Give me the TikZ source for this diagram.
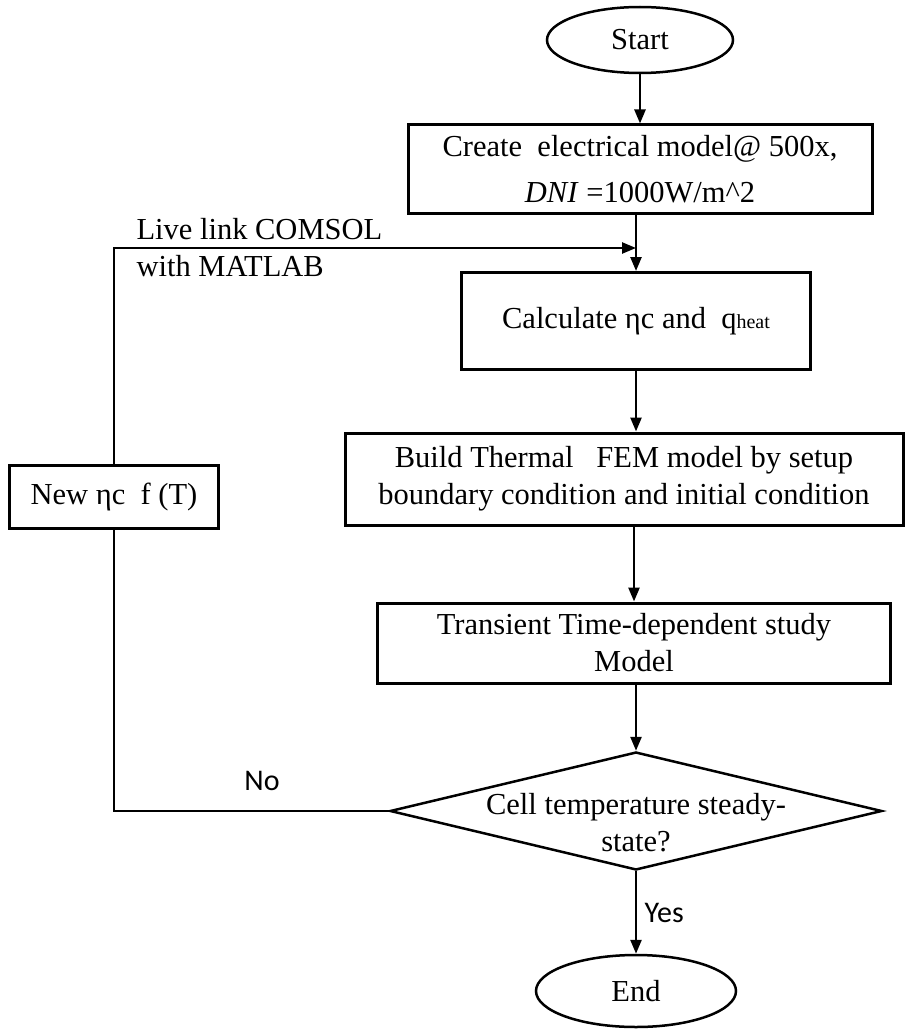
\documentclass[tikz,border=0pt]{standalone}
\usepackage{fontspec}
\setmainfont{Liberation Serif}
\newfontfamily\yesnofont{Carlito}
\usetikzlibrary{arrows.meta, positioning, shapes.geometric}

\tikzset{
  procbox/.style={draw=black, line width=3pt, rectangle, inner sep=0pt, align=center, font=\fontsize{30.5}{37}\selectfont},
  termbox/.style={draw=black, line width=2.5pt, ellipse, inner sep=0pt, font=\fontsize{30.5}{37}\selectfont},
  decbox/.style={draw=black, line width=2.5pt, diamond, inner sep=0pt},
  flow/.style={line width=2.5pt, -{Triangle[length=14pt, width=11pt]}},
  link/.style={line width=2.5pt},
  yesno/.style={font=\yesnofont\fontsize{30}{32}\selectfont},
  note/.style={align=left, font=\fontsize{30.5}{37}\selectfont}
}

\begin{document}
\begin{tikzpicture}[x=1pt, y=-1pt]
  \useasboundingbox (0,0) rectangle (905,1030);

  % Start / End
  \node[termbox, minimum width=186pt, minimum height=66pt] (start) at (640,40) {Start};
  \node[termbox, minimum width=200pt, minimum height=72pt] (end) at (636,991) {End};

  % Process boxes
  \node[procbox, minimum width=464pt, minimum height=88pt, font=\fontsize{30.5}{46}\selectfont] (elec) at (640,169)
    {Create\ \ electrical model@ 500x,\\\textit{DNI} =1000W/m\textasciicircum 2};
  \node[procbox, minimum width=349pt, minimum height=97pt] (calc) at (636,321)
    {Calculate ηc and\ \ q{\fontsize{20}{20}\selectfont heat}};
  \node[procbox, minimum width=558pt, minimum height=92pt] (fem) at (624,479)
    {Build Thermal\ \ \ FEM model by setup\\boundary condition and initial condition};
  \node[procbox, minimum width=513pt, minimum height=80pt] (study) at (634,643)
    {Transient Time-dependent study\\Model};

  % Decision
  \node[decbox, minimum width=492pt, minimum height=118pt] (check) at (636,811) {};
  \node[align=center, font=\fontsize{30.5}{37}\selectfont] (checktxt) at (636,823)
    {Cell temperature steady-\\state?};

  % Feedback box
  \node[procbox, minimum width=209pt, minimum height=63pt] (neweta) at (114,497) {New ηc\ \ f (T)};
  \coordinate (join) at (636,248);
  \node[note, anchor=west] (livelink) at (133,248) {Live link COMSOL\\with MATLAB};

  % Main flow
  \draw[flow] (start) -- (elec);
  \draw[flow] (elec.south -| calc) -- (calc);
  \draw[flow] (calc) -- (fem.north -| calc);
  \draw[flow] (fem.south -| study) -- (study);
  \draw[flow] (study.south -| check) -- (check);
  \draw[flow] (check) -- node[yesno, right=4pt] (yes) {Yes} (end);

  % Loop back
  \draw[link] (check.west) -| (neweta.south);
  \node[yesno] (no) at (262,781) {No};
  \draw[flow] (neweta.north) |- (join);
\end{tikzpicture}
\end{document}
